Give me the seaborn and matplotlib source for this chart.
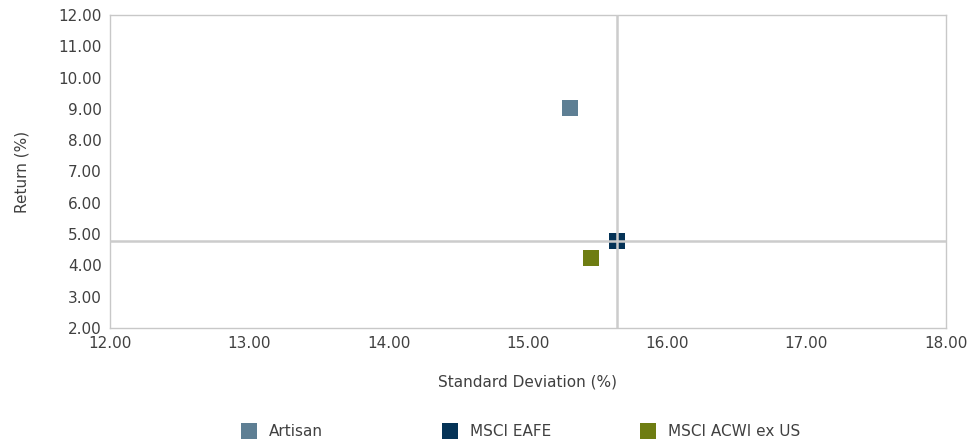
import pandas as pd
import seaborn as sns
import matplotlib.pyplot as plt
from matplotlib.ticker import FormatStrFormatter

# Risk / return values
names = ["Artisan", "MSCI EAFE", "MSCI ACWI ex US"]
std_dev = [15.30, 15.64, 15.45]
returns = [9.03, 4.77, 4.24]
colors = ["#5E7F94", "#053357", "#6E7D12"]

df = pd.DataFrame({"Standard Deviation (%)": std_dev, "Return (%)": returns, "name": names})

sns.set_style("white")
plt.rcParams["font.family"] = ["DejaVu Sans"]
txt = "#404040"

fig = plt.figure(figsize=(9.74, 4.43), dpi=100)
ax = fig.add_axes([0.113, 0.26, 0.858, 0.706])

sns.scatterplot(data=df, x="Standard Deviation (%)", y="Return (%)", hue="name",
                palette=colors, marker="s", s=135, linewidth=0, ax=ax, zorder=2)

# benchmark crosshair
bench = names.index("MSCI EAFE")
ax.axvline(std_dev[bench], color="#cccccc", lw=1.8, zorder=3)
ax.axhline(returns[bench], color="#cccccc", lw=1.8, zorder=3)

ax.set_xlim(12, 18)
ax.set_ylim(2, 12)
ax.set_xticks(range(12, 19))
ax.set_yticks(range(2, 13))
ax.xaxis.set_major_formatter(FormatStrFormatter("%.2f"))
ax.yaxis.set_major_formatter(FormatStrFormatter("%.2f"))
ax.tick_params(length=0, labelsize=11, colors=txt, pad=6)
ax.set_xlabel("Standard Deviation (%)", fontsize=11, color=txt, labelpad=17)
ax.set_ylabel("Return (%)", fontsize=11, color=txt, labelpad=21)
for sp in ax.spines.values():
    sp.set_color("#c8c8c8")
    sp.set_linewidth(1.0)

# legend entries sit in fixed-width slots like the original
handles, labels = ax.get_legend_handles_labels()
ax.get_legend().remove()
for h, lab, x0 in zip(handles, labels, [0.226, 0.432, 0.636]):
    fig.legend([h], [lab], loc="center left", bbox_to_anchor=(x0, 0.025),
               frameon=False, fontsize=11, handletextpad=0.3, labelcolor=txt)

fig.savefig("out.png", dpi=100)
